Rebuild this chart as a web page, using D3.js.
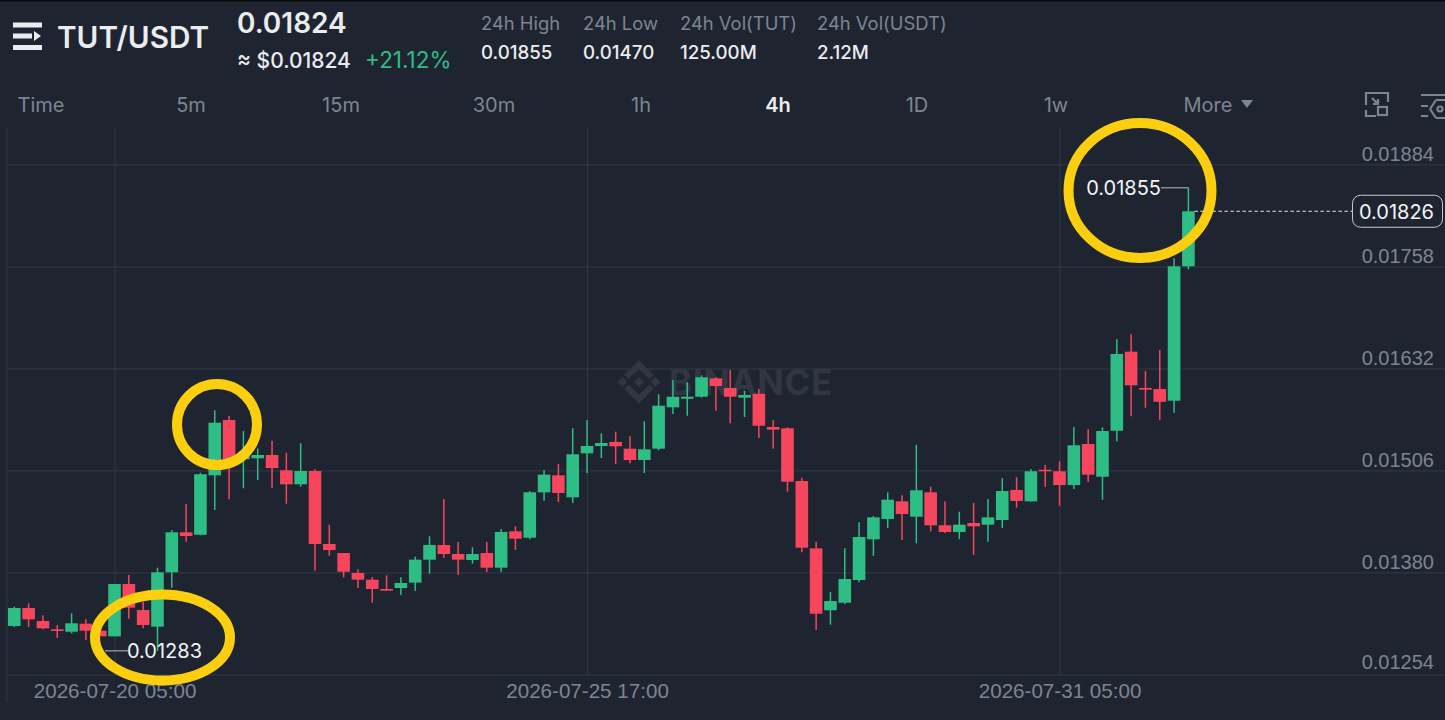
<!DOCTYPE html>
<html lang="en">
<head>
    <meta charset="UTF-8">
    <title>TUT/USDT</title>
    <script src="https://cdnjs.cloudflare.com/ajax/libs/d3/7.8.5/d3.min.js"></script>
    <style>
        html,body{
            margin:0;
            padding:0;
            background:#1f2530;
            overflow:hidden;
        }
        svg{
            display:block;
            font-family:Inter,"Noto Sans",sans-serif;
        }
        .axis path{
            display:none;
        }
        .axis line{
            stroke:#303641;
            stroke-width:1.2px;
        }
        .axis text{
            fill:#7d8591;
            font-size:20px;
        }
        .time text{
            font-size:20.6px;
        }
    </style>
</head>
<body>
    <svg id="chart" width="1445" height="720"></svg>
    <script>
// candles, 4h apart, first one opens 2026-07-19 01:00
const opens=[.013137,.013359,.013198,.013096,.013066,.013165,.013079,.013009,.013655,.013334,.013128,.01380,.014294,.014264,.014998,.015681,.015196,.015208,.015249,.01506,.014887,.015051,.01415,.014038,.013791,.013709,.013594,.013606,.013672,.013956,.014137,.014026,.013952,.014038,.013857,.014306,.014227,.014788,.014998,.014726,.01527,.01536,.01541,.015327,.015187,.015327,.015838,.015944,.015969,.016196,.016077,.015957,.016006,.015595,.015579,.014928,.014096,.013331,.013424,.013705,.014208,.014458,.014677,.014487,.014788,.014381,.014298,.014409,.014388,.014446,.014817,.014677,.015067,.015048,.014878,.015385,.014981,.015549,.016525,.016077,.016064,.01592,.01758];
const highs=[.013375,.013417,.013269,.013149,.013294,.013219,.013087,.013655,.013767,.013437,.013857,.014323,.014644,.01503,.015801,.015731,.015545,.015332,.015426,.015277,.015394,.015072,.014388,.014038,.013837,.013742,.013763,.013738,.013993,.014245,.014705,.014174,.014109,.014174,.014335,.014368,.014804,.01506,.015138,.015579,.015678,.015517,.015537,.01548,.015665,.015999,.016175,.016147,.016234,.016209,.016299,.016043,.016064,.015678,.015591,.014969,.014178,.013557,.014096,.014418,.014495,.014788,.014751,.015376,.014857,.014677,.014549,.014656,.014705,.014965,.014974,.015076,.015125,.015171,.015595,.015566,.015591,.016678,.01674,.016287,.016546,.017679,.01855];
const lows=[.013124,.013124,.013096,.012988,.013046,.012964,.013009,.013009,.013227,.013108,.01283,.01361,.014178,.014257,.01457,.014702,.014838,.01494,.014845,.014647,.014857,.01382,.014005,.013738,.013606,.013424,.013573,.01352,.013569,.013783,.01398,.013767,.013906,.013804,.013804,.014075,.014208,.014684,.014668,.014656,.015027,.015212,.015138,.015146,.015027,.015307,.015755,.015734,.015957,.015796,.015641,.015718,.015459,.015327,.014796,.014047,.013087,.013153,.013408,.013676,.014005,.014347,.014199,.014158,.014306,.014285,.014208,.014014,.014178,.014347,.014598,.014672,.014854,.014623,.014829,.014915,.014697,.015418,.015727,.015833,.015681,.015772,.017543];
const closes=[.013359,.013219,.013108,.013075,.01317,.013079,.013009,.013655,.013363,.013149,.01380,.014294,.014248,.015011,.015648,.015163,.015249,.015249,.015088,.014887,.015051,.01415,.014075,.013807,.013709,.013594,.013573,.013668,.013956,.014137,.014026,.013956,.014026,.013857,.014298,.014215,.014788,.015006,.01478,.015258,.01536,.015397,.015356,.015187,.015319,.015858,.015969,.015969,.016209,.016101,.015969,.01599,.015611,.015562,.014919,.014104,.013289,.013445,.013717,.014236,.014479,.014697,.01452,.014813,.014381,.014298,.014388,.014368,.014479,.014804,.014681,.015048,.015048,.014878,.015369,.015006,.015545,.016497,.01611,.016056,.015907,.01758,.01826];

const priceTicks=[0.01884,0.01758,0.01632,0.01506,0.0138,0.01254];
const timeTicks=[new Date(2026,6,20,5),new Date(2026,6,25,17),new Date(2026,6,31,5)];
const tabNames=["Time","5m","15m","30m","1h","4h","1D","1w","More"];
const statNames=["24h High","24h Low","24h Vol(TUT)","24h Vol(USDT)"];
const statValues=["0.01855","0.01470","125.00M","2.12M"];

const lastPrice=0.01826, highPrice=0.01855, lowPrice=0.01283;
const candleHours=4;
const firstTime=new Date(2026,6,19,1);
const candles=d3.range(opens.length).map(i=>({
    time:d3.timeHour.offset(firstTime,i*candleHours),
    open:opens[i],high:highs[i],low:lows[i],close:closes[i]
}));

const green="#2ebd85", red="#f6465d", yellow="#fbcf0f", dim="#7d8591", light="#eaecef";
const svg=d3.select("#chart");

const x=d3.scaleTime()
    .domain([candles[0].time,candles[candles.length-1].time])
    .range([14.3,1188.4]);
const y=d3.scaleLinear()
    .domain([0.01254,0.01884])
    .range([674.3,164.3]);

// top edge of the screenshot
svg.append("rect").attr("width",1445).attr("height",1.5).attr("fill","#07080a");

/////////////////HEADER/////////////////////////////
function label(txt,px,py,size,fill,weight,anchor){
    return svg.append("text").text(txt).attr("x",px).attr("y",py)
        .attr("font-size",size).attr("fill",fill)
        .attr("font-weight",weight||400).attr("text-anchor",anchor||"start");
}
const menu=svg.append("g").attr("fill",light);
menu.append("rect").attr("x",13).attr("y",22.5).attr("width",29).attr("height",5);
menu.append("rect").attr("x",13).attr("y",33.5).attr("width",19).attr("height",5);
menu.append("path").attr("d","M34,31 L41,36 L34,41 Z");
menu.append("rect").attr("x",13).attr("y",45).attr("width",29).attr("height",5);

label("TUT/USDT",57,47.5,29.7,light,600);
label("0.01824",237,33,28,light,600);
label("≈ $0.01824",237,68,21,light,500);
label("+21.12%",365,68,22.5,green,400);

const statX=[481,583,680,817];
statNames.forEach((d,i)=>{
    label(d,statX[i],30,18.4,dim);
    label(statValues[i],statX[i],59,18.7,light,500);
});

const tabX=[41,191,341,494,641,778,917,1056,1208];
tabNames.forEach((d,i)=>{
    label(d,tabX[i],112,20,d=="4h"?light:dim,d=="4h"?600:400,"middle");
});
svg.append("path").attr("d","M1241,100 L1253,100 L1247,108 Z").attr("fill",dim);

// toolbar icons on the right
const icons=svg.append("g").attr("fill","none").attr("stroke",dim).attr("stroke-width",2.2);
icons.append("path").attr("d","M1366,105 L1366,93 L1388,93 L1388,102 M1366,110 L1366,116 L1376,116");
icons.append("rect").attr("x",1378).attr("y",107).attr("width",9).attr("height",8);
icons.append("path").attr("d","M1372,98 L1378,104 M1378,99 L1378,104 L1373,104");
icons.append("path").attr("d","M1421,95 L1445,95 M1421,106 L1428,106 M1421,116 L1428,116");
icons.append("path").attr("d","M1436,100 L1445,100 M1436,118 L1445,118 M1430,109 L1436,100 M1430,109 L1436,118");
icons.append("circle").attr("cx",1440).attr("cy",109).attr("r",2.5);

/////////////////AXES/////////////////////////////
// left edge of the plot
svg.append("line").attr("x1",6.8).attr("x2",6.8).attr("y1",127).attr("y2",702)
    .attr("stroke","#303641").attr("stroke-width",1.2);

const yAxis=d3.axisRight(y)
    .tickValues(priceTicks)
    .tickSize(1445-6.8)
    .tickFormat(d3.format(".5f"));
svg.append("g").attr("class","axis")
    .attr("transform","translate(6.8,0)")
    .call(yAxis)
    .call(g=>g.selectAll("text")
        .attr("x",1434-6.8)
        .attr("dy",d=>d==0.01254?-5.5:-3.7)
        .attr("text-anchor","end"));

const xAxis=d3.axisBottom(x)
    .tickValues(timeTicks)
    .tickSize(-(674.3-127))
    .tickFormat(d3.timeFormat("%Y-%m-%d %H:%M"));
svg.append("g").attr("class","axis time")
    .attr("transform","translate(0,674.3)")
    .call(xAxis)
    .call(g=>g.selectAll("text").attr("y",18).attr("dy",0).attr("dominant-baseline","middle"));

/////////////////WATERMARK/////////////////////////////
const mark=svg.append("g").attr("fill","#303642");
mark.append("text").text("BINANCE").attr("x",669).attr("y",394.5)
    .attr("font-size",35).attr("font-weight",700).attr("letter-spacing",0.6);
// diamonds left, middle and right, then the chevrons above and below
[[622.5,382],[639,382],[655.5,382]].forEach(d=>{
    mark.append("rect").attr("x",d[0]-3.6).attr("y",d[1]-3.6)
        .attr("width",7.2).attr("height",7.2)
        .attr("transform",`rotate(45 ${d[0]} ${d[1]})`);
});
mark.append("path").attr("d","M639,360 L654,375 L649.5,379 L639,369 L628.5,379 L624,375 Z");
mark.append("path").attr("d","M639,403.5 L654,388.5 L649.5,384.5 L639,394.5 L628.5,384.5 L624,388.5 Z");

/////////////////CANDLES/////////////////////////////
const color=d=>d.close>=d.open?green:red;
const candle=svg.append("g").selectAll("g")
    .data(candles)
    .enter()
    .append("g");
candle.append("line")
    .attr("x1",d=>x(d.time)).attr("x2",d=>x(d.time))
    .attr("y1",d=>y(d.high)).attr("y2",d=>y(d.low))
    .attr("stroke",color).attr("stroke-width",1.5);
candle.append("rect")
    .attr("x",d=>x(d.time)-6.3)
    .attr("width",12.6)
    .attr("y",d=>y(Math.max(d.open,d.close)))
    .attr("height",d=>Math.max(1.3,Math.abs(y(d.open)-y(d.close))))
    .attr("fill",color);

/////////////////PRICE MARKERS/////////////////////////////
const last=candles[candles.length-1];
svg.append("line")
    .attr("x1",x(last.time)+6).attr("x2",1352)
    .attr("y1",y(lastPrice)).attr("y2",y(lastPrice))
    .attr("stroke","#dfe2e6").attr("stroke-width",1).attr("stroke-dasharray","3.5 2.5");
svg.append("rect").attr("x",1352.5).attr("y",y(lastPrice)-16).attr("width",90).attr("height",32).attr("rx",8)
    .attr("fill","#1f2530").attr("stroke","#c6cad0").attr("stroke-width",1);
label("0.01826",1434,y(lastPrice)+7.5,20,"#f3f4f6",400,"end");

svg.append("path")
    .attr("d",`M1161,${y(highPrice)} L${x(last.time)},${y(highPrice)}`)
    .attr("fill","none").attr("stroke","#a0a4ab").attr("stroke-width",1.2);
label("0.01855",1161,y(highPrice)+7,20,"#f3f4f6",400,"end");

svg.append("path")
    .attr("d",`M105,${y(lowPrice)} L128,${y(lowPrice)}`)
    .attr("fill","none").attr("stroke","#a0a4ab").attr("stroke-width",1.2);
label("0.01283",127,y(lowPrice)+7.5,20,"#f3f4f6",400);

/////////////////HAND DRAWN RINGS/////////////////////////////
svg.append("g").attr("fill","none").attr("stroke",yellow).attr("stroke-width",10)
    .selectAll("ellipse")
    .data([[217,424.5,40,40.5],[162.5,637.5,67.5,43],[1140,190.5,71.5,67.5]])
    .enter()
    .append("ellipse")
    .attr("cx",d=>d[0]).attr("cy",d=>d[1])
    .attr("rx",d=>d[2]).attr("ry",d=>d[3]);
    </script>
</body>
</html>
